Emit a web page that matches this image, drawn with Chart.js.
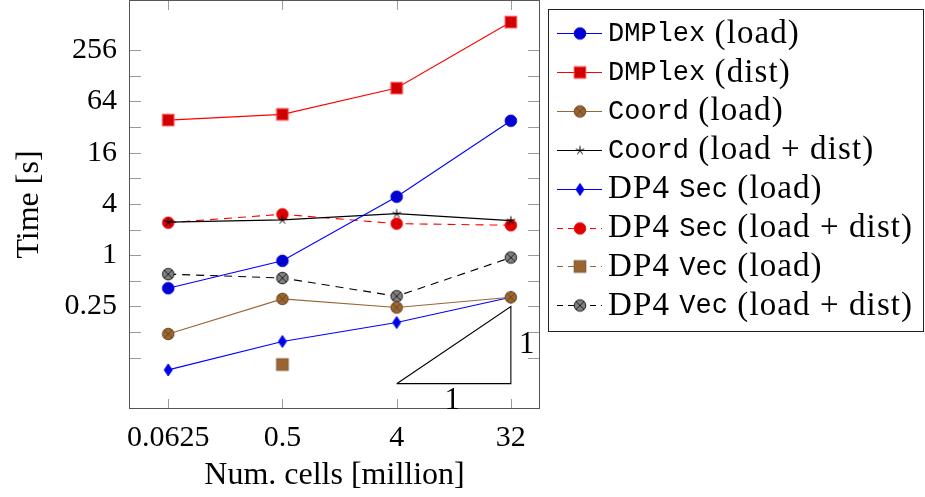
<!DOCTYPE html>
<html>
<head>
<meta charset="utf-8">
<script src="https://cdn.jsdelivr.net/npm/chart.js@4.4.0/dist/chart.umd.min.js"></script>
<style>
  html, body { margin: 0; padding: 0; background: #fff; }
  canvas { display: block; }
</style>
</head>
<body>
<canvas id="timeChart" width="925" height="497"></canvas>
<script>
// data (log-log plot)
const cells = [0.0625, 0.5, 4, 32];
const dmplexLoad = [0.41, 0.86, 4.87, 38];
const dmplexDist = [38.7, 45.2, 92, 548];
const coordLoad = [0.119, 0.307, 0.243, 0.321];
const coordLoadDist = [2.45, 2.6, 3.08, 2.55];
const secLoad = [0.045, 0.097, 0.162, 0.321];
const secLoadDist = [2.41, 3.03, 2.35, 2.25];
const vecLoad = [null, 0.052, null, null];
const vecLoadDist = [0.60, 0.54, 0.33, 0.94];

// slope-1 triangle
const slopeX = [4, 32, 32, 4];
const slopeY = [0.031, 0.031, 0.25, 0.031];

const xTicks = [0.0625, 0.5, 4, 32];
const xTickLabels = ['0.0625', '0.5', '4', '32'];
const yTicks = [1/16, 1/8, 0.25, 0.5, 1, 2, 4, 8, 16, 32, 64, 128, 256];
const yTickLabels = { 0.25: '0.25', 1: '1', 4: '4', 16: '16', 64: '64', 256: '256' };

const SERIF = '"Liberation Serif", "DejaVu Serif", serif';
const MONO = '"Liberation Mono", "DejaVu Sans Mono", monospace';

// marker images (pgfplots style marks)
function marker(kind, fill, stroke) {
  const c = document.createElement('canvas');
  c.width = 16; c.height = 16;
  const g = c.getContext('2d');
  g.translate(8, 8);
  g.fillStyle = fill;
  g.strokeStyle = stroke;
  g.lineWidth = 1;
  if (kind === 'circle' || kind === 'otimes') {
    g.beginPath(); g.arc(0, 0, 5.8, 0, Math.PI * 2); g.fill(); g.stroke();
    if (kind === 'otimes') {
      const d = 5.8 * Math.SQRT1_2;
      g.beginPath(); g.moveTo(-d, -d); g.lineTo(d, d); g.moveTo(-d, d); g.lineTo(d, -d); g.stroke();
    }
  } else if (kind === 'square') {
    g.fillRect(-5.8, -5.8, 11.6, 11.6); g.strokeRect(-5.8, -5.8, 11.6, 11.6);
  } else if (kind === 'diamond') {
    g.beginPath(); g.moveTo(0, -6); g.lineTo(4, 0); g.lineTo(0, 6); g.lineTo(-4, 0); g.closePath(); g.fill(); g.stroke();
  } else if (kind === 'star') {
    g.beginPath();
    for (let i = 0; i < 5; i++) {
      const ang = -Math.PI / 2 + i * 2 * Math.PI / 5;
      g.moveTo(0, 0); g.lineTo(4.5 * Math.cos(ang), 4.5 * Math.sin(ang));
    }
    g.stroke();
  }
  return c;
}

const BLUE = '#0000ff', RED = '#ff0000', BROWN = '#996633';

const series = [
  { label: [['DMPlex', 1], [' (load)', 0]], data: dmplexLoad, color: BLUE, dash: [], mark: marker('circle', '#0000d0', '#0000e0') },
  { label: [['DMPlex', 1], [' (dist)', 0]], data: dmplexDist, color: RED, dash: [], mark: marker('square', '#d00000', '#ff4040') },
  { label: [['Coord', 1], [' (load)', 0]], data: coordLoad, color: BROWN, dash: [], mark: marker('otimes', '#9a6530', '#6e4820') },
  { label: [['Coord', 1], [' (load + dist)', 0]], data: coordLoadDist, color: '#000000', dash: [], mark: marker('star', '#000', '#000') },
  { label: [['DP4 ', 0], ['Sec', 1], [' (load)', 0]], data: secLoad, color: BLUE, dash: [], mark: marker('diamond', '#0000e0', '#0000ff') },
  { label: [['DP4 ', 0], ['Sec', 1], [' (load + dist)', 0]], data: secLoadDist, color: RED, dash: [8, 6], mark: marker('circle', '#dd0000', '#ee1010') },
  { label: [['DP4 ', 0], ['Vec', 1], [' (load)', 0]], data: vecLoad, color: BROWN, dash: [8, 6], mark: marker('square', '#9a6530', '#7a5228') },
  { label: [['DP4 ', 0], ['Vec', 1], [' (load + dist)', 0]], data: vecLoadDist, color: '#000000', dash: [8, 6], mark: marker('otimes', '#808080', '#202020') }
];

const datasets = series.map(s => ({
  data: cells.map((x, i) => ({ x: x, y: s.data[i] })),
  borderColor: s.color,
  borderWidth: 1.1,
  borderDash: s.dash,
  pointStyle: s.mark,
  pointRadius: 6,
  pointHoverRadius: 6,
  fill: false,
  spanGaps: false
}));

datasets.push({
  data: slopeX.map((x, i) => ({ x: x, y: slopeY[i] })),
  borderColor: '#000000',
  borderWidth: 1.1,
  pointRadius: 0,
  fill: false
});

// inward ticks, frame, legend and triangle labels
const framePlugin = {
  id: 'framePlugin',
  afterDraw(chart) {
    const { ctx, chartArea: a, scales: { x, y } } = chart;
    ctx.save();
    // ticks
    ctx.strokeStyle = '#9a9a9a';
    ctx.lineWidth = 1;
    ctx.beginPath();
    xTicks.forEach(v => {
      const px = Math.round(x.getPixelForValue(v)) + 0.5;
      ctx.moveTo(px, a.top); ctx.lineTo(px, a.top + 10);
      ctx.moveTo(px, a.bottom); ctx.lineTo(px, a.bottom - 10);
    });
    yTicks.forEach(v => {
      const py = Math.round(y.getPixelForValue(v)) + 0.5;
      ctx.moveTo(a.left, py); ctx.lineTo(a.left + 12, py);
      ctx.moveTo(a.right, py); ctx.lineTo(a.right - 12, py);
    });
    ctx.stroke();
    // frame
    ctx.strokeStyle = '#555555';
    ctx.strokeRect(Math.round(a.left) + 0.5, Math.round(a.top) + 0.5, Math.round(a.right - a.left) - 1, Math.round(a.bottom - a.top) - 1);

    // slope triangle labels
    ctx.fillStyle = '#000';
    ctx.font = '31px ' + SERIF;
    ctx.textAlign = 'center';
    ctx.textBaseline = 'middle';
    ctx.fillText('1', Math.sqrt(x.getPixelForValue(4) * x.getPixelForValue(32)) + 2, y.getPixelForValue(0.031) + 17);
    ctx.fillText('1', x.getPixelForValue(32) + 16, y.getPixelForValue(0.088));

    // legend
    const lx = 548.5, ly = 9.5, lw = 375, lh = 322;
    ctx.fillStyle = '#fff';
    ctx.fillRect(lx, ly, lw, lh);
    ctx.strokeStyle = '#222';
    ctx.strokeRect(lx, ly, lw, lh);
    ctx.textAlign = 'left';
    series.forEach((s, i) => {
      const cy = 33 + i * 38.9;
      ctx.strokeStyle = s.color;
      ctx.lineWidth = 1.1;
      ctx.setLineDash(s.dash.length ? [6, 5] : []);
      ctx.beginPath();
      ctx.moveTo(557, Math.round(cy) + 0.5); ctx.lineTo(602, Math.round(cy) + 0.5);
      ctx.stroke();
      ctx.setLineDash([]);
      ctx.drawImage(s.mark, 580 - 8, Math.round(cy) - 7.5);
      let tx = 608;
      ctx.fillStyle = '#000';
      s.label.forEach(([t, mono]) => {
        ctx.font = mono ? '27px ' + MONO : '33px ' + SERIF;
        ctx.letterSpacing = mono ? '0px' : '1.1px';
        ctx.fillText(t, tx, cy + 1);
        tx += ctx.measureText(t).width;
      });
    });
    ctx.letterSpacing = '0px';
    ctx.restore();
  }
};

const ctx = document.getElementById('timeChart').getContext('2d');
const timeChart = new Chart(ctx, {
  type: 'line',
  data: { datasets: datasets },
  options: {
    responsive: false,
    animation: false,
    events: [],
    layout: { autoPadding: false, padding: { top: 0, right: 385, bottom: 0, left: 0 } },
    plugins: { legend: { display: false }, tooltip: { enabled: false } },
    scales: {
      x: {
        type: 'logarithmic',
        min: Math.pow(2, -5.03),
        max: Math.pow(2, 5.765),
        afterBuildTicks: scale => { scale.ticks = xTicks.map(v => ({ value: v })); },
        afterFit: scale => { scale.height = 88; scale.paddingLeft = 0; scale.paddingRight = 0; },
        grid: { display: false },
        border: { display: false },
        ticks: {
          color: '#000',
          font: { family: SERIF, size: 30 },
          padding: 3,
          maxRotation: 0,
          callback: (v, i) => xTickLabels[i]
        },
        title: {
          display: true,
          text: 'Num. cells [million]',
          color: '#000',
          font: { family: SERIF, size: 32 },
          padding: { top: 0, bottom: 2 }
        }
      },
      y: {
        type: 'logarithmic',
        min: Math.pow(2, -6),
        max: Math.pow(2, 9.96),
        afterBuildTicks: scale => { scale.ticks = yTicks.map(v => ({ value: v })); },
        afterFit: scale => { scale.width = 129; scale.paddingTop = 0; scale.paddingBottom = 0; },
        grid: { display: false },
        border: { display: false },
        ticks: {
          color: '#000',
          font: { family: SERIF, size: 30 },
          padding: 4,
          callback: v => yTickLabels[v] || ''
        },
        title: {
          display: true,
          text: 'Time [s]',
          color: '#000',
          font: { family: SERIF, size: 32 },
          padding: { top: 10, bottom: 0 }
        }
      }
    }
  },
  plugins: [framePlugin]
});
</script>
</body>
</html>
